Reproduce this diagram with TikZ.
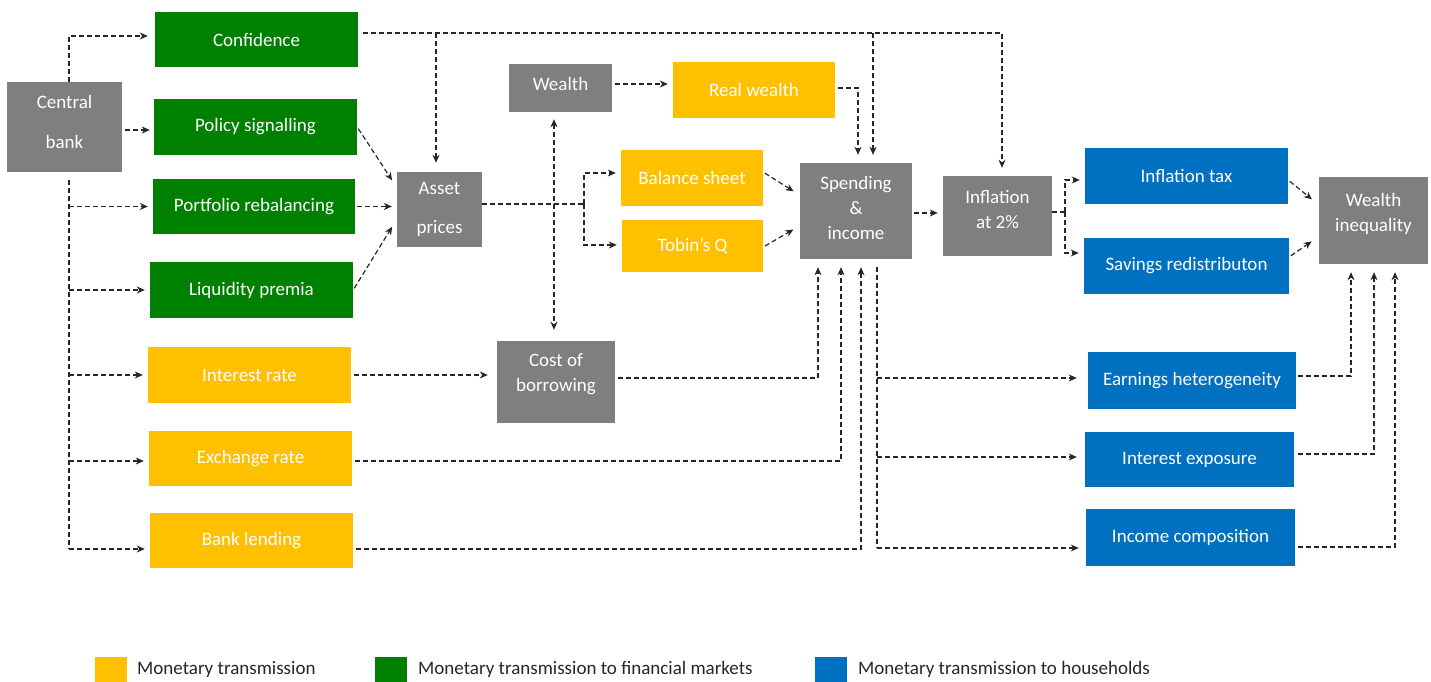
\documentclass[tikz,border=0pt]{standalone}
\usepackage{fontspec}
\setmainfont{Carlito}
\usetikzlibrary{arrows.meta}
\definecolor{cgray}{HTML}{7F7F7F}
\definecolor{cgreen}{HTML}{008000}
\definecolor{cyel}{HTML}{FFC000}
\definecolor{cblue}{HTML}{0070C0}
\begin{document}
\begin{tikzpicture}[x=1pt,y=-1pt,
  >={Stealth[length=8pt,width=7pt,inset=2.5pt]},
  bx/.style={rectangle, inner sep=0pt, text=white, font=\fontsize{19}{25}\selectfont, align=center},
  bxg/.style={bx, fill=cgray},
  bxgr/.style={bx, fill=cgreen},
  bxy/.style={bx, fill=cyel},
  bxb/.style={bx, fill=cblue},
  txt/.style={inner sep=0pt, text=white, font=\fontsize{19}{25}\selectfont, align=center},
  con/.style={line width=1.2pt, dash pattern=on 5pt off 3pt, draw=black!85},
  arr/.style={con, ->, shorten >=5pt},
  leg/.style={inner sep=0pt, text=black!85, font=\fontsize{19}{23}\selectfont},
  sq/.style={inner sep=0pt, minimum width=32pt, minimum height=25pt}
]
\useasboundingbox (0,0) rectangle (1431,682);

% ---------- boxes ----------
\node[bxg, minimum width=115pt, minimum height=90pt] (cb) at (64.5,127) {};
\node[txt] (cbt) at (64.5,122) {Central\\[15pt]bank};

\node[bxgr, minimum width=203pt, minimum height=55pt] (conf) at (256.5,39.5) {Confidence};
\node[bxgr, minimum width=203pt, minimum height=56pt] (pol) at (255.5,127) {Policy signalling};
\node[bxgr, minimum width=202pt, minimum height=55pt] (port) at (254,206.5) {Portfolio rebalancing};
\node[bxgr, minimum width=203pt, minimum height=56pt] (liq) at (251.5,290) {Liquidity premia};

\node[bxy, minimum width=203pt, minimum height=56pt] (ir) at (249.5,375) {Interest rate};
\node[bxy, minimum width=203pt, minimum height=55pt] (er) at (250.5,458.5) {Exchange rate};
\node[bxy, minimum width=203pt, minimum height=55pt] (bl) at (251.5,540.5) {Bank lending};

\node[bxg, minimum width=85pt, minimum height=75pt] (asset) at (439.5,209.5) {Asset\\[14pt]prices};

\node[bxg, minimum width=103pt, minimum height=48pt] (wealth) at (560.5,88) {};
\node[txt] (wealtht) at (560.5,84) {Wealth};
\node[bxy, minimum width=162pt, minimum height=56pt] (realw) at (754,90) {Real wealth};
\node[bxy, minimum width=142pt, minimum height=56pt] (bal) at (692,178) {Balance sheet};
\node[bxy, minimum width=141pt, minimum height=52pt] (tob) at (692.5,246) {Tobin’s Q};

\node[bxg, minimum width=118pt, minimum height=82pt] (cob) at (556,382) {};
\node[txt] (cobt) at (556,374) {Cost of\\borrowing};

\node[bxg, minimum width=112pt, minimum height=96pt] (spend) at (856,211) {};
\node[txt] (spendt) at (856,208) {Spending\\\&\\income};

\node[bxg, minimum width=109pt, minimum height=80pt] (infl) at (997.5,216) {};
\node[txt] (inflt) at (997.5,210) {Inflation\\at 2\%};

\node[bxb, minimum width=203pt, minimum height=56pt] (itax) at (1186.5,176) {Inflation tax};
\node[bxb, minimum width=205pt, minimum height=56pt] (sav) at (1186.5,266) {Savings redistributon};

\node[bxg, minimum width=109pt, minimum height=87pt] (wi) at (1373.5,220.5) {};
\node[txt] (wit) at (1373.5,214) {Wealth\\inequality};

\node[bxb, minimum width=208pt, minimum height=57pt] (earn) at (1192,380.5) {Earnings heterogeneity};
\node[bxb, minimum width=209pt, minimum height=55pt] (iexp) at (1189.5,459.5) {Interest exposure};
\node[bxb, minimum width=209pt, minimum height=57pt] (inc) at (1190.5,537.5) {Income composition};

% ---------- connectors ----------
% central bank
\coordinate (cbn) at ([xshift=4.5pt]cb.north);
\draw[arr, shorten >=7pt] (cbn) |- ([yshift=3.5pt]conf.west);
\draw[arr, shorten <=3pt, shorten >=4pt] ([yshift=-3pt]cb.east) -- ([yshift=-3pt]pol.west);
\coordinate (cbs) at ([xshift=4.5pt,yshift=-8pt]cb.south);
\coordinate (cbe) at (69,549);
\draw[con] (cbs) -- (cbe);
\draw[arr] (cbe |- port.west) -- (port.west);
\draw[arr] (cbe |- liq.west) -- (liq.west);
\draw[arr] (cbe |- ir.west) -- (ir.west);
\coordinate (erw) at ([yshift=-2.5pt]er.west);
\draw[arr] (cbe |- erw) -- (erw);
\coordinate (blw) at ([yshift=-8.5pt]bl.west);
\draw[arr] (cbe) -- (blw);

% confidence top line
\coordinate (tl) at ([xshift=5pt,yshift=6.5pt]conf.east);
\draw[arr, shorten >=8pt] (tl) -| ([xshift=4.5pt]infl.north);
\coordinate (atop) at ([xshift=-3.5pt]asset.north);
\draw[arr, shorten >=9pt] (atop |- tl) -- (atop);
\coordinate (stop) at ([xshift=17pt]spend.north);
\draw[arr, shorten >=8pt] (stop |- tl) -- (stop);

% green -> asset prices
\draw[arr, shorten <=2pt] (pol.east) -- ([xshift=-2pt,yshift=25pt]asset.west);
\draw[arr, shorten <=2pt] (port.east) -- (port.east -| asset.west);
\draw[arr, shorten <=2pt] (liq.east) -- ([xshift=-2pt,yshift=-13pt]asset.west);

% asset prices -> balance sheet / tobin
\coordinate (ab) at (584,204);
\draw[con] ([yshift=5.5pt]asset.east) -- (ab);
\draw[arr] (ab) |- ([yshift=5pt]bal.west);
\draw[arr] (ab) |- ([yshift=1pt]tob.west);

% wealth
\coordinate (we) at ([yshift=4pt]wealth.east);
\draw[arr, shorten <=3pt] (we) -- (we -| realw.west);
\coordinate (wb) at ([xshift=-6.5pt]wealth.south);
\draw[con, <->, shorten <=7pt, shorten >=11pt] (wb) -- (wb |- cob.north);
\coordinate (rtop) at ([xshift=2pt]spend.north);
\draw[arr, shorten <=3pt, shorten >=8pt] ([yshift=2pt]realw.east) -| (rtop);

% balance sheet / tobin -> spending
\draw[arr, shorten <=2pt] ([yshift=6pt]bal.east) -- ([xshift=-2pt,yshift=17pt]spend.west);
\draw[arr, shorten <=2pt] ([yshift=-1pt]tob.east) -- ([xshift=-2pt,yshift=-16pt]spend.west);

% spending -> inflation
\coordinate (se) at ([yshift=-2pt]spend.east);
\draw[arr, shorten <=2pt] (se) -- (se -| infl.west);

% inflation -> tax / savings
\coordinate (ib) at (1065,212);
\draw[con] ([yshift=4pt]infl.east) -- (ib);
\draw[arr] (ib) |- ([yshift=-4pt]itax.west);
\draw[arr] (ib) |- ([yshift=13pt]sav.west);
\draw[arr, shorten <=2pt] ([yshift=-4pt]itax.east) -- ([xshift=-3pt,yshift=18pt]wi.west);
\draw[arr, shorten <=2pt] ([yshift=9pt]sav.east) -- ([xshift=-3pt,yshift=-18pt]wi.west);

% lower left -> spending
\draw[arr, shorten <=3pt, shorten >=9pt] (ir.east) -- (ir.east -| cob.west);
\draw[arr, shorten <=3pt, shorten >=8pt] ([yshift=4pt]cob.east) -| ([xshift=-38pt]spend.south);
\draw[arr, shorten <=3pt, shorten >=8pt] ([yshift=-2.5pt]er.east) -| ([xshift=-15pt]spend.south);
\draw[arr, shorten <=3pt, shorten >=8pt] ([yshift=-8.5pt]bl.east) -| ([xshift=5pt]spend.south);

% spending -> households
\coordinate (sst) at ([xshift=21pt,yshift=-8pt]spend.south);
\coordinate (sse) at (877,548);
\draw[con] (sst) -- (sse);
\coordinate (earnw) at ([yshift=2.5pt]earn.west);
\draw[arr, shorten >=11pt] (sse |- earnw) -- (earnw);
\coordinate (iexpw) at ([yshift=2.5pt]iexp.west);
\draw[arr, shorten >=8pt] (sse |- iexpw) -- (iexpw);
\coordinate (incw) at ([yshift=-10.5pt]inc.west);
\draw[arr, shorten >=7pt] (sse) -- (incw);

% households -> wealth inequality
\draw[arr, shorten <=2pt, shorten >=8pt] ([yshift=4.5pt]earn.east) -| ([xshift=-22.5pt]wi.south);
\draw[arr, shorten <=4pt, shorten >=8pt] ([yshift=5.5pt]iexp.east) -| ([xshift=0.5pt]wi.south);
\draw[arr, shorten <=3pt, shorten >=8pt] ([yshift=-9.5pt]inc.east) -| ([xshift=21.5pt]wi.south);

% ---------- legend ----------
\node[sq, fill=cyel] (ly) at (111,669) {};
\node[leg, anchor=west] (lyt) at (137,669) {Monetary transmission};
\node[sq, fill=cgreen] (lg) at (391,669) {};
\node[leg, anchor=west] (lgt) at (418,669) {Monetary transmission to financial markets};
\node[sq, fill=cblue] (lb) at (831,669) {};
\node[leg, anchor=west] (lbt) at (858,669) {Monetary transmission to households};
\end{tikzpicture}
\end{document}
